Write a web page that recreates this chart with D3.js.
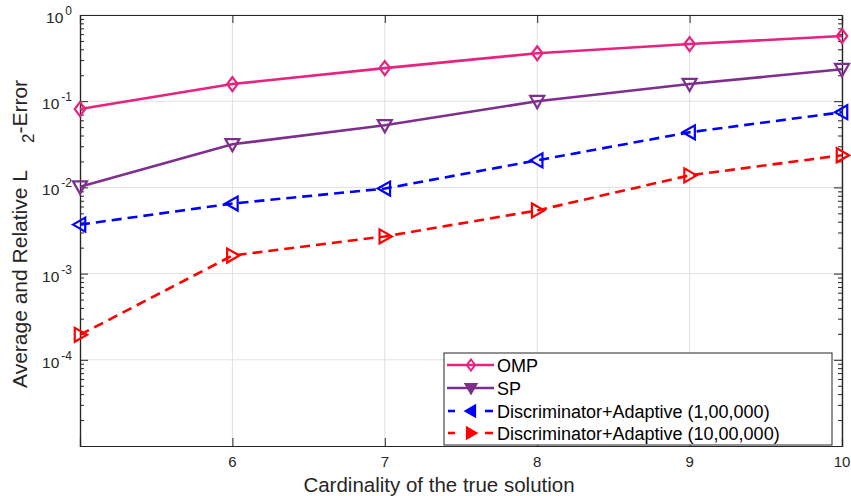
<!DOCTYPE html>
<html>
<head>
<meta charset="utf-8">
<script src="https://cdn.jsdelivr.net/npm/d3@7"></script>
<style>
  body { margin: 0; background: #fff; }
  svg { display: block; font-family: "Liberation Sans", Arial, Helvetica, sans-serif; }
</style>
</head>
<body>
<svg id="chart" width="851" height="496"></svg>
<script>
// Sparse recovery error versus cardinality of the true solution
const cardinality = [5, 6, 7, 8, 9, 10];
const ompError   = [0.081, 0.158, 0.242, 0.36, 0.46, 0.57];
const spError    = [0.0102, 0.0316, 0.0525, 0.1, 0.158, 0.235];
const disc1e5    = [0.0037, 0.0065, 0.0097, 0.0206, 0.0436, 0.0745];
const disc1e6    = [0.000195, 0.00162, 0.0027, 0.0054, 0.0138, 0.0236];
const xTickValues = [6, 7, 8, 9, 10];
const yTickExponents = [0, -1, -2, -3, -4];
const seriesNames = ["OMP", "SP", "Discriminator+Adaptive (1,00,000)", "Discriminator+Adaptive (10,00,000)"];

const series = [
  { name: seriesNames[0], values: ompError, color: "#e6247f", dash: null, marker: "diamond" },
  { name: seriesNames[1], values: spError,  color: "#7e2f8e", dash: null, marker: "down" },
  { name: seriesNames[2], values: disc1e5,  color: "#0000ff", dash: "10,6", marker: "left" },
  { name: seriesNames[3], values: disc1e6,  color: "#ff0000", dash: "10,6", marker: "right" }
];

const svg = d3.select("#chart");
const m = { left: 80, right: 842, top: 15, bottom: 446 };
const axisColor = "#262626";

const x = d3.scaleLinear().domain([5, 10]).range([m.left, m.right]);
const y = d3.scaleLog().domain([1e-5, 1]).range([m.bottom, m.top]);

// grid
const grid = svg.append("g");
xTickValues.forEach(v => grid.append("line")
  .attr("x1", x(v)).attr("x2", x(v)).attr("y1", m.top).attr("y2", m.bottom)
  .attr("stroke", "#e0e0e0").attr("stroke-width", 1));
yTickExponents.forEach(e => grid.append("line")
  .attr("x1", m.left).attr("x2", m.right).attr("y1", y(Math.pow(10, e))).attr("y2", y(Math.pow(10, e)))
  .attr("stroke", "#e0e0e0").attr("stroke-width", 1));

// minor tick positions for log axis
const minorTicks = [];
for (let e = -5; e < 0; e++) for (let k = 2; k <= 9; k++) minorTicks.push(k * Math.pow(10, e));

// axes (ticks pointing inward)
const majorLen = 8, minorLen = 4;
const axes = svg.append("g");
const majorY = yTickExponents.map(e => Math.pow(10, e));
function styleAxis(g) {
  g.selectAll("path").attr("stroke", axisColor).attr("stroke-width", 1.2);
  g.selectAll("line").attr("stroke", axisColor).attr("stroke-width", 1);
}
axes.append("g").attr("transform", `translate(${m.left},0)`)
  .call(d3.axisRight(y).tickValues(majorY).tickSize(majorLen).tickFormat("")).call(styleAxis);
axes.append("g").attr("transform", `translate(${m.left},0)`)
  .call(d3.axisRight(y).tickValues(minorTicks).tickSize(minorLen).tickFormat("")).call(styleAxis);
axes.append("g").attr("transform", `translate(${m.right},0)`)
  .call(d3.axisLeft(y).tickValues(majorY).tickSize(majorLen).tickFormat("")).call(styleAxis);
axes.append("g").attr("transform", `translate(${m.right},0)`)
  .call(d3.axisLeft(y).tickValues(minorTicks).tickSize(minorLen).tickFormat("")).call(styleAxis);
axes.append("g").attr("transform", `translate(0,${m.bottom})`)
  .call(d3.axisTop(x).tickValues(xTickValues).tickSize(majorLen).tickFormat("")).call(styleAxis);
axes.append("g").attr("transform", `translate(0,${m.top})`)
  .call(d3.axisBottom(x).tickValues(xTickValues).tickSize(majorLen).tickFormat("")).call(styleAxis);

// x tick labels
xTickValues.forEach(v => svg.append("text")
  .attr("x", x(v)).attr("y", m.bottom + 21).attr("text-anchor", "middle")
  .attr("font-size", 15).attr("fill", axisColor).text(v));

// y tick labels 10^e
yTickExponents.forEach(e => {
  const t = svg.append("text").attr("x", m.left - 8).attr("y", y(Math.pow(10, e)) + 8)
    .attr("text-anchor", "end").attr("font-size", 15.5).attr("fill", axisColor);
  t.append("tspan").text("10");
  t.append("tspan").attr("dx", 2).attr("dy", -8).attr("font-size", 12).text(e);
});

// axis titles
svg.append("text").attr("x", 439).attr("y", 492).attr("text-anchor", "middle")
  .attr("font-size", 20.5).attr("fill", axisColor).text("Cardinality of the true solution");

const yTitle = svg.append("text")
  .attr("transform", "translate(27,388) rotate(-90)")
  .attr("text-anchor", "start").attr("font-size", 21).attr("fill", axisColor);
yTitle.append("tspan").text("Average and Relative L");
yTitle.append("tspan").attr("dx", 27).attr("dy", 7).attr("font-size", 17).text("2");
yTitle.append("tspan").attr("dy", -7).text("-Error");

// marker drawing
const ms = 7;
function markerPath(type, s) {
  switch (type) {
    case "diamond": return `M0,${-s}L${s * 0.75},0L0,${s}L${-s * 0.75},0Z`;
    case "down": return `M${-s},${-s * 0.75}L${s},${-s * 0.75}L0,${s}Z`;
    case "left": return `M${-s},0L${s * 0.75},${-s}L${s * 0.75},${s}Z`;
    case "right": return `M${s},0L${-s * 0.75},${-s}L${-s * 0.75},${s}Z`;
  }
}

const line = d3.line().x((d, i) => x(cardinality[i])).y(d => y(d));
const plot = svg.append("g");
series.forEach(s => {
  plot.append("path").datum(s.values).attr("d", line)
    .attr("fill", "none").attr("stroke", s.color).attr("stroke-width", 2.6)
    .attr("stroke-dasharray", s.dash);
  plot.selectAll(null).data(s.values).enter().append("path")
    .attr("transform", (d, i) => `translate(${x(cardinality[i])},${y(d)})`)
    .attr("d", markerPath(s.marker, ms))
    .attr("fill", "none").attr("stroke", s.color).attr("stroke-width", 2.2);
});

// legend
const lg = svg.append("g");
const lx = 444, ly = 353, lw = 388, lh = 92;
lg.append("rect").attr("x", lx).attr("y", ly).attr("width", lw).attr("height", lh)
  .attr("fill", "#fff").attr("stroke", axisColor).attr("stroke-width", 1);
const rowY = [365, 388, 411, 433];
series.forEach((s, i) => {
  const cy = rowY[i];
  if (s.dash) {
    [[lx + 4, lx + 11], [lx + 41, lx + 49]].forEach(([a, b]) => lg.append("line")
      .attr("x1", a).attr("x2", b).attr("y1", cy).attr("y2", cy)
      .attr("stroke", s.color).attr("stroke-width", 2.6));
  } else {
    lg.append("line").attr("x1", lx + 3).attr("x2", lx + 50).attr("y1", cy).attr("y2", cy)
      .attr("stroke", s.color).attr("stroke-width", 2.6);
  }
  lg.append("path").attr("transform", `translate(${lx + 27},${cy})`)
    .attr("d", markerPath(s.marker, 5.5)).attr("fill", s.marker === "diamond" ? "none" : s.color)
    .attr("stroke", s.color).attr("stroke-width", 2);
  lg.append("text").attr("x", lx + 53).attr("y", cy + 6.5).attr("font-size", 18)
    .attr("fill", "#000").text(s.name);
});
</script>
</body>
</html>
